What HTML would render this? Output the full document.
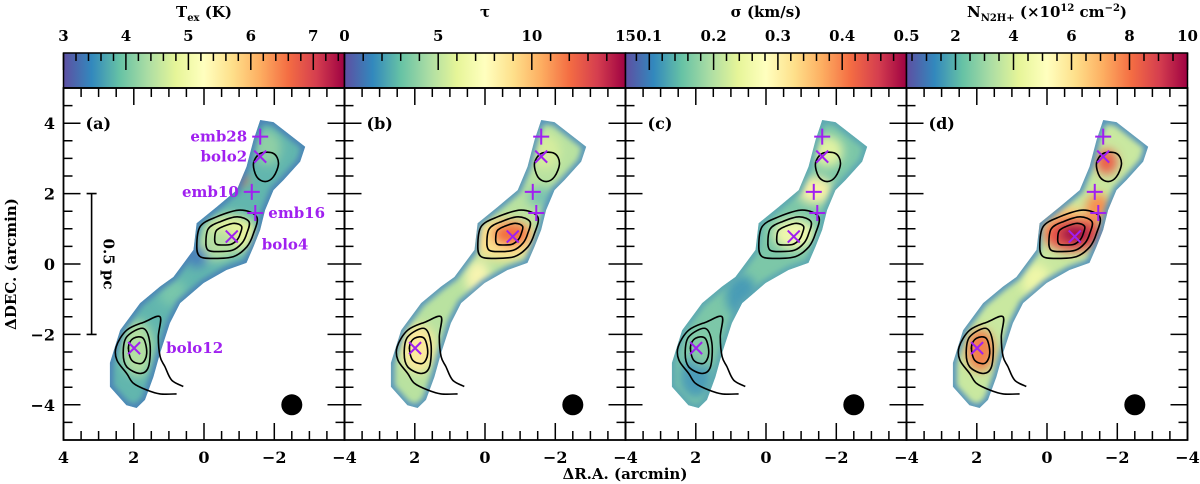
<!DOCTYPE html>
<html><head><meta charset="utf-8"><style>
html,body{margin:0;padding:0;background:#fff;}
svg{display:block;font-family:"DejaVu Serif","Liberation Serif",serif;font-weight:bold;}
</style></head><body>
<svg id="fig" width="1200" height="484" viewBox="0 0 1200 484" xmlns="http://www.w3.org/2000/svg">
<defs>
<linearGradient id="spectral" x1="0" x2="1" y1="0" y2="0">
<stop offset="0" stop-color="#5e4fa2"/><stop offset="0.1" stop-color="#3288bd"/><stop offset="0.2" stop-color="#66c2a5"/><stop offset="0.3" stop-color="#abdda4"/><stop offset="0.4" stop-color="#e6f598"/><stop offset="0.5" stop-color="#ffffbf"/><stop offset="0.6" stop-color="#fee08b"/><stop offset="0.7" stop-color="#fdae61"/><stop offset="0.8" stop-color="#f46d43"/><stop offset="0.9" stop-color="#d53e4f"/><stop offset="1" stop-color="#9e0142"/>
</linearGradient>
<filter id="blur8" x="-50%" y="-50%" width="200%" height="200%"><feGaussianBlur stdDeviation="5"/></filter>
<filter id="blur4" x="-50%" y="-50%" width="200%" height="200%"><feGaussianBlur stdDeviation="3"/></filter>
</defs>
</svg>
<script>
// ---- data (arcmin) ----
const panelLabels = ['(a)','(b)','(c)','(d)'];
const cbarTitles = ['T<tspan dy="4" font-size="10">ex</tspan><tspan dy="-4"> (K)</tspan>','τ','σ (km/s)','N<tspan dy="4" font-size="10">N2H+</tspan><tspan dy="-4"> (×10</tspan><tspan dy="-6" font-size="10">12</tspan><tspan dy="6"> cm</tspan><tspan dy="-6" font-size="10">−2</tspan><tspan dy="6">)</tspan>'];
const cbarMin = [3, 0, 0.063, 0.31];
const cbarMax = [7.5, 15, 0.5, 10];
const cbarMajor = [[3,4,5,6,7],[0,5,10,15],[0.1,0.2,0.3,0.4,0.5],[2,4,6,8,10]];
const cbarMajorLabels = [['3','4','5','6','7'],['0','5','10','15'],['0.1','0.2','0.3','0.4','0.5'],['2','4','6','8','10']];
const cbarMinorStep = [0.2, 1, 0.02, 0.5];
const xTicks = [4,2,0,-2,-4];
const yTicks = [4,2,0,-2,-4];
const regionOutline = [[-1.60,4.09],[-1.98,4.03],[-2.88,3.33],[-2.74,2.91],[-2.27,2.39],[-1.98,2.10],[-1.74,1.53],[-1.60,0.97],[-1.41,0.49],[-1.21,0.03],[-0.64,-0.17],[0.01,-0.54],[0.68,-1.11],[0.97,-1.68],[1.25,-2.53],[1.44,-3.21],[1.68,-3.86],[1.92,-4.09],[2.21,-4.01],[2.68,-3.49],[2.68,-2.81],[2.39,-1.88],[1.82,-1.11],[1.25,-0.64],[0.87,-0.37],[0.30,0.40],[0.21,1.16],[-0.36,1.62],[-0.93,2.10],[-1.21,2.76],[-1.41,3.52]];
const bolo4Outer = [[0.205,0.49],[0.11,1.06],[-0.36,1.34],[-1.03,1.53],[-1.50,1.34],[-1.41,0.87],[-1.22,0.49],[-0.84,0.21],[-0.27,0.16],[0.11,0.21]];
const bolo4Center = [-0.72,0.85];
const bolo4Levels = [1, 0.72, 0.45];
const bolo12Open = [[0.59,-3.48],[0.92,-3.30],[1.11,-2.92],[1.25,-2.63],[1.30,-2.07],[1.25,-1.50],[1.68,-1.64],[2.20,-1.88],[2.50,-2.35],[2.48,-2.73],[2.20,-3.11],[2.01,-3.39],[1.63,-3.58],[1.25,-3.69],[0.78,-3.69]];
const bolo12Mid = [[2.30,-2.54],[2.20,-2.07],[1.73,-1.83],[1.54,-2.25],[1.58,-2.92],[1.82,-3.11],[2.20,-2.92]];
const bolo12Inner = [[2.15,-2.35],[2.01,-2.11],[1.73,-2.11],[1.63,-2.54],[1.77,-2.82],[2.06,-2.73]];
const bolo2Contour = [[-1.41,2.86],[-1.60,3.14],[-1.98,3.14],[-2.12,2.86],[-1.98,2.48],[-1.74,2.34],[-1.50,2.48]];
const plusNames = ['emb28','emb10','emb16'];
const plusX = [-1.60,-1.36,-1.46];
const plusY = [3.62,2.05,1.45];
const crossNames = ['bolo2','bolo4','bolo12'];
const crossX = [-1.60,-0.79,1.99];
const crossY = [3.05,0.78,-2.39];
const beamX = -2.5, beamY = -4;
// per panel: base colour, edge colour, blobs [x,y,rx,ry,colour]
const baseColors = ['#62b6ae','#b9e2a0','#7cc7a8','#c9e8a0'];
const edgeColors = ['#4a80b8','#4f8fbf','#5aa5b4','#4b8cc0'];
const blobs = [
 [[-0.75,0.85,0.8,0.55,'#e6f39c'],[-0.35,0.55,0.6,0.45,'#b6e0a2'],[-1.0,2.4,0.25,0.15,'#f46d43'],[-1.8,3.3,0.4,0.5,'#8fcfa5'],[1.9,-2.4,0.45,0.8,'#b2dfa2'],[0.9,-0.8,0.4,0.4,'#78c6ab'],[0.2,0.2,0.3,0.3,'#4a82bb']],
 [[-0.55,0.7,0.95,0.6,'#fde28f'],[-0.75,0.85,0.55,0.35,'#f2703f'],[1.9,-2.4,0.5,0.7,'#fcea9c'],[0.2,-0.4,0.35,0.5,'#f7f4b0'],[-1.7,3.2,0.45,0.5,'#d5ed9e'],[-1.6,1.9,0.4,0.3,'#7cc4b0']],
 [[-0.8,0.85,0.6,0.45,'#eef7ac'],[-1.4,2.1,0.5,0.4,'#f6f0a8'],[-1.75,3.2,0.45,0.45,'#e0f2a2'],[0.7,-0.9,0.45,0.6,'#4a9cb6'],[2.0,-3.2,0.45,0.6,'#4b9cb8'],[1.85,-2.4,0.3,0.5,'#86cba6']],
 [[-0.3,1.2,0.9,0.5,'#fdd07a'],[-0.75,0.85,0.85,0.5,'#e8544a'],[-0.8,0.85,0.45,0.28,'#a3104a'],[-1.45,1.6,0.35,0.4,'#f8904f'],[-1.7,2.9,0.3,0.35,'#ec5f48'],[1.9,-2.45,0.4,0.6,'#f3804c'],[0.3,-0.5,0.4,0.5,'#eef6a8']]
];
// ---- geometry ----
const panelLeft = [63.5,344.5,625.5,906.5];
const panelW = 281, mapTop = 88, mapH = 352, cbTop = 53, cbH = 35;
const NS='http://www.w3.org/2000/svg';
const svg=document.getElementById('fig');
function el(tag,attrs,parent){const e=document.createElementNS(NS,tag);for(const k in attrs)e.setAttribute(k,String(attrs[k]));(parent||svg).appendChild(e);return e;}
function sx(p,x){return panelLeft[p]+(4-x)/8*panelW;}
function sy(y){return mapTop+(5-y)/10*mapH;}
function cbx(p,v){return panelLeft[p]+(v-cbarMin[p])/(cbarMax[p]-cbarMin[p])*panelW;}
function smoothPath(pts,closed){
  const n=pts.length;let d='M'+pts[0][0]+','+pts[0][1];
  const get=i=>closed?pts[(i+n)%n]:pts[Math.max(0,Math.min(n-1,i))];
  const m=closed?n:n-1;
  for(let i=0;i<m;i++){const p0=get(i-1),p1=get(i),p2=get(i+1),p3=get(i+2);
    const c1=[p1[0]+(p2[0]-p0[0])/6,p1[1]+(p2[1]-p0[1])/6],c2=[p2[0]-(p3[0]-p1[0])/6,p2[1]-(p3[1]-p1[1])/6];
    d+=' C'+c1[0].toFixed(1)+','+c1[1].toFixed(1)+' '+c2[0].toFixed(1)+','+c2[1].toFixed(1)+' '+p2[0].toFixed(1)+','+p2[1].toFixed(1);}
  return d+(closed?'Z':'');
}
for(let p=0;p<4;p++){
  const L=panelLeft[p];
  const g=el('g',{});
  
  
  const cb=el('rect',{x:L,y:cbTop,width:panelW,height:cbH,fill:'url(#spectral)',stroke:'#000','stroke-width':1.5},g);
  
  
  let cd='';
  const start=Math.ceil(cbarMin[p]/cbarMinorStep[p]-1e-6);
  for(let k=start;k*cbarMinorStep[p]<=cbarMax[p]+1e-9;k++){
    const v=k*cbarMinorStep[p];const X=cbx(p,v).toFixed(1);
    const isMaj=cbarMajor[p].some(m=>Math.abs(m-v)<1e-6);
    cd+='M'+X+' '+cbTop+'V'+(cbTop+(isMaj?17:8));
  }
  el('path',{d:cd,stroke:'#000','stroke-width':1.5,fill:'none'},g);
  cbarMajor[p].forEach((v,i)=>{
    const t=el('text',{x:cbx(p,v),y:41,'font-size':15,'text-anchor':'middle'},g);
    t.textContent=cbarMajorLabels[p][i];
    
    
  });
  const ct=el('text',{x:L+panelW/2,y:17,'font-size':15,'text-anchor':'middle'},g);
  ct.innerHTML=cbarTitles[p];
  
  
  const clipId='clip'+p;
  const cp=el('clipPath',{id:clipId},g);
  const outline=regionOutline.map(q=>[sx(p,q[0]),sy(q[1])]);
  const opts=outline.map(q=>q[0].toFixed(1)+','+q[1].toFixed(1)).join(' ');
  el('polygon',{points:opts},cp);
  const mg=el('g',{'clip-path':'url(#'+clipId+')'},g);
  
  
  el('polygon',{points:opts,fill:baseColors[p]},mg);
  const bg=el('g',{filter:'url(#blur8)'},mg);
  blobs[p].forEach(b=>{
    el('ellipse',{cx:sx(p,b[0]),cy:sy(b[1]),rx:b[2]*panelW/8,ry:b[3]*mapH/10,fill:b[4]},bg);
  });
  el('polygon',{points:opts,fill:'none',stroke:edgeColors[p],'stroke-width':7,filter:'url(#blur4)'},mg);
  const toPx=arr=>arr.map(q=>[sx(p,q[0]),sy(q[1])]);
  bolo4Levels.forEach(s=>{
    const pts=bolo4Outer.map(q=>[sx(p,bolo4Center[0]+(q[0]-bolo4Center[0])*s),sy(bolo4Center[1]+(q[1]-bolo4Center[1])*s)]);
    const c=el('path',{d:smoothPath(pts,true),fill:'none',stroke:'#000','stroke-width':1.6},g);
    
    
  });
  [[bolo12Open,false],[bolo12Mid,true],[bolo12Inner,true],[bolo2Contour,true]].forEach(a=>{
    const c=el('path',{d:smoothPath(toPx(a[0]),a[1]),fill:'none',stroke:'#000','stroke-width':1.6},g);
    
    
  });
  plusX.forEach((x,i)=>{
    const X=sx(p,x),Y=sy(plusY[i]);
    const m=el('path',{d:`M${X-8},${Y}H${X+8}M${X},${Y-8}V${Y+8}`,stroke:'#a020f0','stroke-width':2},g);
    
    
  });
  crossX.forEach((x,i)=>{
    const X=sx(p,x),Y=sy(crossY[i]);
    const m=el('path',{d:`M${X-6},${Y-6}L${X+6},${Y+6}M${X+6},${Y-6}L${X-6},${Y+6}`,stroke:'#a020f0','stroke-width':2},g);
    
    
  });
  const beam=el('circle',{cx:sx(p,beamX),cy:sy(beamY),r:10.5,fill:'#000'},g);
  
  
  el('rect',{x:L,y:mapTop,width:panelW,height:mapH,fill:'none',stroke:'#000','stroke-width':1.8},g);
  let td='';
  for(let k=-10;k<=10;k++){
    const v=k*0.5;const maj=(k%4===0);const len=maj?17:9;
    if(v>=-4&&v<=4){const X=sx(p,v).toFixed(1);
      td+='M'+X+' '+mapTop+'V'+(mapTop+len)+'M'+X+' '+(mapTop+mapH)+'V'+(mapTop+mapH-len);}
    if(v>-5&&v<5){const Y=sy(v).toFixed(1);
      td+='M'+L+' '+Y+'H'+(L+len)+'M'+(L+panelW)+' '+Y+'H'+(L+panelW-len);}
  }
  el('path',{d:td,stroke:'#000','stroke-width':1.5,fill:'none'},g);
  xTicks.forEach(v=>{
    if(p>0&&v===4)return;
    const t=el('text',{x:sx(p,v),y:463,'font-size':16,'text-anchor':'middle'},g);
    t.textContent=v<0?'−'+(-v):String(v);
    
    
  });
  const pl=el('text',{x:L+22,y:sy(4)+6,'font-size':16},g);
  pl.textContent=panelLabels[p];
  
  
}
yTicks.forEach(v=>{
  const t=el('text',{x:55,y:sy(v)+6,'font-size':16,'text-anchor':'end'});
  t.textContent=v<0?'−'+(-v):String(v);
  
  
});
const nameLabelPos = [['emb28',-1.60,3.62,'end'],['bolo2',-1.60,3.05,'end'],['emb10',-1.36,2.05,'end'],['emb16',-1.46,1.45,'start'],['bolo4',-0.79,0.78,'start'],['bolo12',1.99,-2.39,'start']];
const nameDx = [-13,-13,-13,13,30,32];
const nameDy = [5,5,5,5,13,5];
nameLabelPos.forEach((n,i)=>{
  const t=el('text',{x:sx(0,n[1])+nameDx[i],y:sy(n[2])+nameDy[i],'font-size':15,'text-anchor':n[3],fill:'#a020f0'});
  t.textContent=n[0];
  
  
});
const sbX=sx(0,3.2);
el('path',{d:`M${sbX},${sy(2)}V${sy(-2)}M${sbX-5},${sy(2)}H${sbX+5}M${sbX-5},${sy(-2)}H${sbX+5}`,stroke:'#000','stroke-width':1.6,fill:'none'});
const sb=el('text',{x:0,y:0,'font-size':15,'text-anchor':'middle',transform:`translate(${sbX+12},${sy(0)}) rotate(90)`});
sb.textContent='0.5 pc';


const xt=el('text',{x:625,y:479,'font-size':15,'text-anchor':'middle'});
xt.textContent='ΔR.A. (arcmin)';


const yt=el('text',{x:0,y:0,'font-size':15,'text-anchor':'middle',transform:'translate(16,264) rotate(-90)'});
yt.textContent='ΔDEC. (arcmin)';


</script>
</body></html>
